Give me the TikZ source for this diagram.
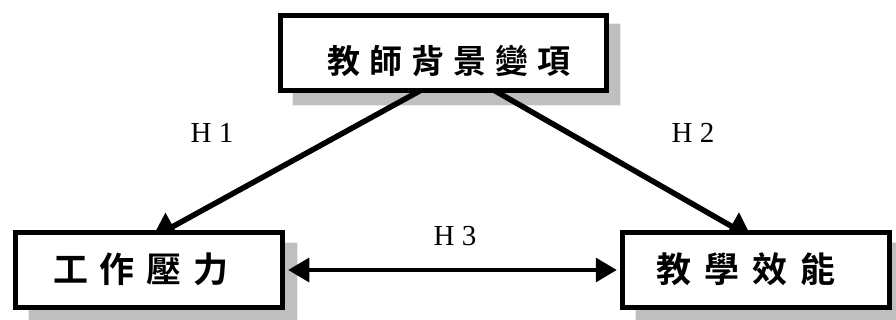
\documentclass[tikz,border=0pt]{standalone}
\usepackage{fontspec}
\setmainfont{Liberation Serif}
\newfontfamily\cjk{Noto Sans CJK TC}[BoldFont={* Bold}]
\usetikzlibrary{arrows.meta}
\tikzset{
  shadowbox/.style={fill=black!25, draw=black!8, line width=1pt},
  mainbox/.style={draw=black, fill=white, line width=5.5pt},
  conn/.style={line width=5.5pt, -{Triangle[length=24pt,width=30pt]}},
  biconn/.style={line width=3.5pt, {Triangle[length=21pt,width=24pt]}-{Triangle[length=21pt,width=24pt]}},
  hlabel/.style={font=\fontsize{29}{32}\selectfont, inner sep=0pt},
  toptext/.style={font=\cjk\bfseries\fontsize{33}{36}\selectfont, inner sep=0pt},
  sidetext/.style={font=\cjk\bfseries\fontsize{35}{38}\selectfont, inner sep=0pt},
}
\begin{document}
\begin{tikzpicture}[x=1pt,y=-1pt]
\useasboundingbox (0,0) rectangle (896,320);
% shadows
\draw[shadowbox] (292,24) rectangle (620,106);
\draw[shadowbox] (28,243) rectangle (297,322);
\draw[shadowbox] (635,243) rectangle (898,322);
% anchor coordinates
\coordinate (tl) at (425,88);
\coordinate (tr) at (490,88);
\coordinate (lend) at (152,238);
\coordinate (rend) at (752,238);
% connectors
\draw[conn] (tl) -- (lend);
\draw[conn] (tr) -- (rend);
% boxes
\node[mainbox, minimum width=326pt, minimum height=75pt, anchor=north west] (top) at (277.75,12.75) {};
\node[mainbox, minimum width=267pt, minimum height=75pt, anchor=north west] (left) at (12.75,229.75) {};
\node[mainbox, minimum width=267pt, minimum height=75pt, anchor=north west] (right) at (619.75,229.75) {};
\draw[biconn] (left.east) ++(3,0) coordinate (ls) -- ([xshift=-3pt]right.west);
% texts
\node[toptext] (t1) at (449,61) {教\hspace{9pt}師\hspace{9pt}背\hspace{9pt}景\hspace{9pt}變\hspace{9pt}項};
\node[sidetext] (t2) at (141,269) {工\hspace{12pt}作\hspace{12pt}壓\hspace{12pt}力};
\node[sidetext] (t3) at (746,269) {教\hspace{13pt}學\hspace{13pt}效\hspace{13pt}能};
\node[hlabel] (h1) at (212,133) {H 1};
\node[hlabel] (h2) at (693,133) {H 2};
\node[hlabel] (h3) at (455,236) {H 3};
\end{tikzpicture}
\end{document}
